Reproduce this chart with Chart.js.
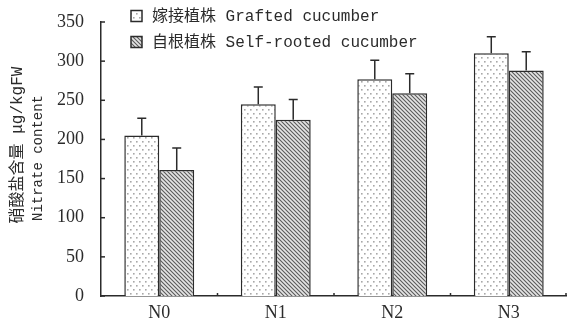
<!DOCTYPE html>
<html>
<head>
<meta charset="utf-8">
<script src="https://cdn.jsdelivr.net/npm/chart.js@4/dist/chart.umd.min.js"></script>
<style>
html, body { margin: 0; padding: 0; background: #fff; }
#wrap { width: 567px; height: 322px; }
</style>
</head>
<body>
<div id="wrap"><canvas id="c" width="567" height="322"></canvas></div>
<script>
var categories = ['N0', 'N1', 'N2', 'N3'];
var graftedValues = [205, 245, 277, 310];
var graftedErrors = [22, 22, 24, 21];
var selfValues = [161, 225, 259, 288];
var selfErrors = [28, 26, 25, 24];
var yTicks = [0, 50, 100, 150, 200, 250, 300, 350];
var seriesLabels = ['嫁接植株 Grafted cucumber', '自根植株 Self-rooted cucumber'];
var yTitleLines = ['硝酸盐含量 μg/kgFW', 'Nitrate content'];

var INK = '#2b2b2b';
var LATIN = '"Liberation Mono", "Noto Sans CJK SC", monospace';

function dotPattern() {
    var c = document.createElement('canvas');
    c.width = 6; c.height = 8;
    var g = c.getContext('2d');
    g.fillStyle = '#fff';
    g.fillRect(0, 0, 6, 8);
    g.fillStyle = '#a8a8a8';
    g.fillRect(1, 1, 1.6, 1.6);
    g.fillRect(4, 5, 1.6, 1.6);
    return g.createPattern(c, 'repeat');
}

function hatchPattern() {
    var c = document.createElement('canvas');
    c.width = 4; c.height = 4;
    var g = c.getContext('2d');
    g.fillStyle = '#e4e4e4';
    g.fillRect(0, 0, 4, 4);
    g.strokeStyle = '#5a5a5a';
    g.lineWidth = 1.1;
    g.beginPath();
    g.moveTo(-1, -1); g.lineTo(5, 5);
    g.moveTo(-1, 3); g.lineTo(1, 5);
    g.moveTo(3, -1); g.lineTo(5, 1);
    g.stroke();
    return g.createPattern(c, 'repeat');
}

var fills = [dotPattern(), hatchPattern()];
var errors = [graftedErrors, selfErrors];

var extrasPlugin = {
    id: 'extras',
    afterDatasetsDraw: function (chart) {
        var ctx = chart.ctx;
        var xs = chart.scales.x, ys = chart.scales.y;
        var area = chart.chartArea;
        ctx.save();
        ctx.strokeStyle = INK;
        ctx.lineWidth = 1.5;
        // error bars
        chart.data.datasets.forEach(function (ds, d) {
            var meta = chart.getDatasetMeta(d);
            meta.data.forEach(function (bar, i) {
                var top = ys.getPixelForValue(ds.data[i] + errors[d][i]);
                ctx.beginPath();
                ctx.moveTo(bar.x, bar.y);
                ctx.lineTo(bar.x, top);
                ctx.moveTo(bar.x - 4.5, top);
                ctx.lineTo(bar.x + 4.5, top);
                ctx.stroke();
            });
        });
        // inward y ticks
        yTicks.forEach(function (v) {
            var y = ys.getPixelForValue(v);
            ctx.beginPath();
            ctx.moveTo(area.left, y);
            ctx.lineTo(area.left + 4, y);
            ctx.stroke();
        });
        // x ticks at category boundaries
        for (var i = 0; i < categories.length; i++) {
            var x = i < categories.length - 1
                ? (xs.getPixelForValue(i) + xs.getPixelForValue(i + 1)) / 2
                : area.right - 1;
            ctx.beginPath();
            ctx.moveTo(x, area.bottom);
            ctx.lineTo(x, area.bottom - 3);
            ctx.stroke();
        }
        ctx.restore();
    },
    afterDraw: function (chart) {
        var ctx = chart.ctx;
        ctx.save();
        // legend
        ctx.textBaseline = 'middle';
        ctx.textAlign = 'left';
        ctx.font = '16px ' + LATIN;
        ctx.fillStyle = INK;
        var rows = [16, 42];
        seriesLabels.forEach(function (label, d) {
            var y = rows[d];
            ctx.fillStyle = fills[d];
            ctx.fillRect(131, y - 5.5, 11, 11);
            ctx.strokeStyle = INK;
            ctx.lineWidth = 1.5;
            ctx.strokeRect(131, y - 5.5, 11, 11);
            ctx.fillStyle = INK;
            ctx.fillText(label, 152, y + 1);
        });
        // y title
        ctx.textAlign = 'center';
        ctx.save();
        ctx.translate(18, 145);
        ctx.rotate(-Math.PI / 2);
        ctx.font = '16px ' + LATIN;
        ctx.fillText(yTitleLines[0], 0, 0);
        ctx.restore();
        ctx.save();
        ctx.translate(38, 158);
        ctx.rotate(-Math.PI / 2);
        ctx.font = '14px ' + LATIN;
        ctx.fillText(yTitleLines[1], 0, 0);
        ctx.restore();
        ctx.restore();
    }
};

new Chart(document.getElementById('c').getContext('2d'), {
    type: 'bar',
    data: {
        labels: categories,
        datasets: [{
            label: seriesLabels[0],
            data: graftedValues,
            backgroundColor: fills[0],
            borderColor: INK,
            borderWidth: 1.5,
            borderSkipped: 'bottom'
        }, {
            label: seriesLabels[1],
            data: selfValues,
            backgroundColor: fills[1],
            borderColor: INK,
            borderWidth: 1.5,
            borderSkipped: 'bottom'
        }]
    },
    options: {
        responsive: false,
        devicePixelRatio: 1,
        animation: false,
        categoryPercentage: 0.6,
        barPercentage: 1.0,
        layout: { padding: { top: 22, left: 0, right: 0, bottom: 0 } },
        plugins: {
            legend: { display: false },
            tooltip: { enabled: false }
        },
        scales: {
            x: {
                grid: { display: false },
                border: { display: true, color: INK, width: 1.5 },
                ticks: {
                    color: INK,
                    padding: 0,
                    font: { family: '"Liberation Serif", serif', size: 18, lineHeight: 1 }
                },
                afterFit: function (scale) { scale.height = 26; }
            },
            y: {
                min: 0,
                max: 350,
                grid: { display: false },
                border: { display: true, color: INK, width: 1.5 },
                ticks: {
                    stepSize: 50,
                    color: INK,
                    padding: 9,
                    font: { family: '"Liberation Serif", serif', size: 18 }
                },
                afterFit: function (scale) { scale.width = 101; }
            }
        }
    },
    plugins: [extrasPlugin]
});
</script>
</body>
</html>
